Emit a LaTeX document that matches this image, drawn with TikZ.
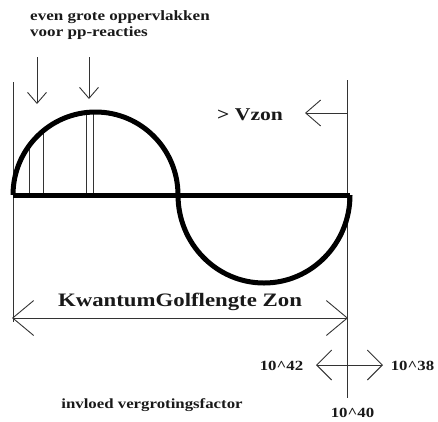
\documentclass[tikz,border=0pt]{standalone}
\usepackage{fontspec}
\setmainfont[FakeStretch=1.2]{Liberation Serif}
\usetikzlibrary{arrows.meta}

\begin{document}
\begin{tikzpicture}[
    x=1pt, y=-1pt,
    guide/.style={draw=black!80, line width=0.9pt},
    wave/.style={draw=black, line width=5pt},
    smallbarb/.style={guide, -{Straight Barb[length=11pt, width=19pt]}},
    midbarb/.style={guide, -{Straight Barb[length=15pt, width=26pt]}},
    twobarb/.style={guide, {Straight Barb[length=15pt, width=30pt]}-{Straight Barb[length=15pt, width=30pt]}},
    widebarb/.style={guide, {Straight Barb[length=21pt, width=35pt]}-{Straight Barb[length=21pt, width=35pt]}},
    caption/.style={font=\bfseries, text=black!90, inner sep=0pt, align=left}
  ]
    \useasboundingbox (0,0) rectangle (438,421);

    % texts
    \node[caption, font=\bfseries\fontsize{14.2}{16.5}\selectfont, anchor=north west] (surfaces) at (30,10) {even grote oppervlakken\\voor pp-reacties};
    \node[caption, font=\bfseries\fontsize{18}{21}\selectfont, anchor=base west] (vzon) at (217,120) {> Vzon};
    \node[caption, font=\bfseries\fontsize{19}{23}\selectfont, anchor=base] (wavelength) at (180,306.5) {KwantumGolflengte Zon};
    \node[caption, font=\bfseries\fontsize{14}{16}\selectfont] (e42) at (281.5,366) {10\textasciicircum42};
    \node[caption, font=\bfseries\fontsize{14}{16}\selectfont] (e38) at (412.5,366) {10\textasciicircum38};
    \node[caption, font=\bfseries\fontsize{14}{16}\selectfont] (e40) at (352.5,413) {10\textasciicircum40};
    \node[caption, font=\bfseries\fontsize{14}{16}\selectfont, anchor=base] (factor) at (152,408) {invloed vergrotingsfactor};

    % frame coordinates
    \coordinate (lefttop) at (13,82);
    \coordinate (leftbot) at (13,322);
    \coordinate (righttop) at (347,80);
    \coordinate (rightbot) at (347,398);
    \coordinate (dimleft) at (12,318);
    \coordinate (dimright) at (348,318);
    \coordinate (vzonend) at (305,113);
    \coordinate (vzonstart) at (347,113);
    \coordinate (downa) at (37,57);
    \coordinate (downaend) at (37,104);
    \coordinate (downb) at (89,57);
    \coordinate (downbend) at (89,99);
    \coordinate (factorleft) at (316,365);
    \coordinate (factorright) at (383,365);

    \draw[guide] (lefttop) -- (leftbot);
    \draw[guide] (righttop) -- (rightbot);

    % strips under the first hump
    \begin{scope}
      \clip (13,195) arc[start angle=180, end angle=360, x radius=82.5, y radius=83] -- cycle;
      \foreach \x in {29,43,86,93} {
        \draw[guide] (\x,195) -- (\x,100);
      }
    \end{scope}

    % wave and axis
    \draw[wave] (13,195) -- (350,195);
    \draw[wave] (13,195) arc[start angle=180, end angle=360, x radius=82.5, y radius=83]
                        arc[start angle=180, end angle=0, x radius=86, y radius=88];

    % arrows
    \draw[smallbarb] (downa) -- (downaend);
    \draw[smallbarb] (downb) -- (downbend);
    \draw[midbarb] (vzonstart) -- (vzonend);
    \draw[widebarb] (dimleft) -- (dimright);
    \draw[twobarb] (factorleft) -- (factorright);
\end{tikzpicture}
\end{document}
